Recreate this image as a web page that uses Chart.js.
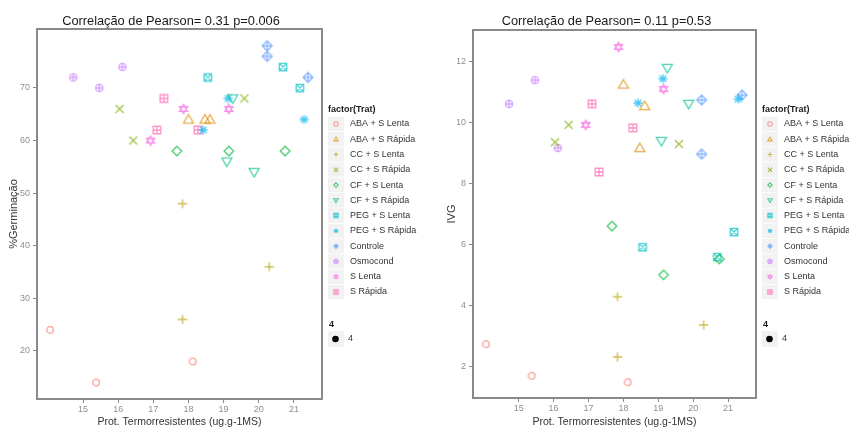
<!DOCTYPE html>
<html>
<head>
<meta charset="utf-8">
<script src="https://cdn.jsdelivr.net/npm/chart.js@4.4.1/dist/chart.umd.min.js"></script>
<style>
  html, body { margin: 0; padding: 0; background: #ffffff; }
  #wrap { position: relative; width: 849px; height: 428px; overflow: hidden; }
  .panel { position: absolute; top: 0; height: 428px; }
  #p1 { left: 0; width: 425px; }
  #p2 { left: 425px; width: 424px; }
</style>
</head>
<body>
<div id="wrap">
  <div class="panel" id="p1"><canvas id="c1"></canvas></div>
  <div class="panel" id="p2"><canvas id="c2"></canvas></div>
</div>
<script>
// Treatments, in legend order
const treatments = [
  'ABA + S Lenta', 'ABA + S Rápida', 'CC + S Lenta', 'CC + S Rápida',
  'CF + S Lenta', 'CF + S Rápida', 'PEG + S Lenta', 'PEG + S Rápida',
  'Controle', 'Osmocond', 'S Lenta', 'S Rápida'
];

// Prot. termorresistentes (ug.g-1MS), three replicates per treatment
const protTermo = [
  [14.06, 15.37, 18.12],
  [18.00, 18.47, 18.61],
  [17.83, 17.83, 20.30],
  [16.04, 16.43, 19.59],
  [17.67, 19.15, 20.75],
  [19.09, 19.26, 19.87],
  [18.55, 20.69, 21.17],
  [18.42, 19.13, 21.29],
  [20.24, 20.24, 21.40],
  [14.72, 15.46, 16.12],
  [16.92, 17.86, 19.15],
  [17.10, 17.30, 18.27]
];

// % germinação, same replicate order as protTermo
const germinacao = [
  [24, 14, 18],
  [64, 64, 64],
  [48, 26, 36],
  [66, 60, 68],
  [58, 58, 58],
  [56, 68, 54],
  [72, 74, 70],
  [62, 68, 64],
  [78, 76, 72],
  [72, 70, 74],
  [60, 66, 66],
  [62, 68, 62]
];

// IVG, same replicate order as protTermo
const ivg = [
  [2.72, 1.68, 1.47],
  [11.26, 9.17, 10.55],
  [4.28, 2.30, 3.35],
  [9.36, 9.93, 9.30],
  [6.60, 5.00, 5.52],
  [9.40, 11.80, 10.62],
  [5.91, 5.59, 6.41],
  [10.65, 11.45, 10.78],
  [10.75, 8.97, 10.91],
  [10.62, 11.40, 9.17],
  [9.93, 12.49, 11.11],
  [10.62, 8.38, 9.83]
];

const protTicks = [15, 16, 17, 18, 19, 20, 21];
const germTicks = [20, 30, 40, 50, 60, 70];
const ivgTicks = [2, 4, 6, 8, 10, 12];

const titleGerm = 'Correlação de Pearson= 0.31 p=0.006';
const titleIvg = 'Correlação de Pearson= 0.11 p=0.53';

// hue palette and marker shapes, one per treatment
const trtColors = [
  [248, 118, 109], [222, 140, 0], [183, 159, 0], [124, 174, 0],
  [0, 186, 56], [0, 192, 139], [0, 191, 196], [0, 180, 240],
  [97, 156, 255], [199, 124, 255], [245, 100, 227], [255, 100, 176]
];
const trtShapes = [
  'circle', 'triangle', 'plus', 'cross', 'diamond', 'triDown',
  'squareX', 'asterisk', 'diamondPlus', 'circlePlus', 'star6', 'squarePlus'
];
const markerSize = [3.3, 5, 4.6, 4, 4.8, 5, 3.7, 4.6, 5, 3.6, 4.6, 3.8];

const FONT = "'Liberation Sans', Arial, sans-serif";
const FRAME = '#8a8a8a';
const TICK_TEXT = '#8f8f8f';

function rgba(c, a) { return 'rgba(' + c[0] + ',' + c[1] + ',' + c[2] + ',' + a + ')'; }

function drawShape(ctx, shape, x, y, r, color, lw) {
  ctx.save();
  ctx.strokeStyle = color;
  ctx.lineWidth = lw;
  ctx.lineJoin = 'miter';
  const line = (x1, y1, x2, y2) => { ctx.moveTo(x1, y1); ctx.lineTo(x2, y2); };
  ctx.beginPath();
  switch (shape) {
    case 'circle':
      ctx.arc(x, y, r, 0, Math.PI * 2);
      break;
    case 'triangle':
      ctx.moveTo(x, y - r); ctx.lineTo(x + r, y + r * 0.72); ctx.lineTo(x - r, y + r * 0.72); ctx.closePath();
      break;
    case 'triDown':
      ctx.moveTo(x, y + r); ctx.lineTo(x + r, y - r * 0.72); ctx.lineTo(x - r, y - r * 0.72); ctx.closePath();
      break;
    case 'plus':
      line(x - r, y, x + r, y); line(x, y - r, x, y + r);
      break;
    case 'cross':
      line(x - r, y - r, x + r, y + r); line(x - r, y + r, x + r, y - r);
      break;
    case 'diamond':
      ctx.moveTo(x, y - r); ctx.lineTo(x + r, y); ctx.lineTo(x, y + r); ctx.lineTo(x - r, y); ctx.closePath();
      break;
    case 'squareX':
      ctx.rect(x - r, y - r, 2 * r, 2 * r);
      line(x - r, y - r, x + r, y + r); line(x - r, y + r, x + r, y - r);
      break;
    case 'asterisk': {
      const d = r * 0.72;
      line(x - r, y, x + r, y); line(x, y - r, x, y + r);
      line(x - d, y - d, x + d, y + d); line(x - d, y + d, x + d, y - d);
      break;
    }
    case 'diamondPlus':
      ctx.moveTo(x, y - r); ctx.lineTo(x + r, y); ctx.lineTo(x, y + r); ctx.lineTo(x - r, y); ctx.closePath();
      line(x - r, y, x + r, y); line(x, y - r, x, y + r);
      break;
    case 'circlePlus':
      ctx.arc(x, y, r, 0, Math.PI * 2);
      line(x - r, y, x + r, y); line(x, y - r, x, y + r);
      break;
    case 'star6':
      ctx.moveTo(x, y - r); ctx.lineTo(x + r * 0.87, y + r * 0.5); ctx.lineTo(x - r * 0.87, y + r * 0.5); ctx.closePath();
      ctx.moveTo(x, y + r); ctx.lineTo(x + r * 0.87, y - r * 0.5); ctx.lineTo(x - r * 0.87, y - r * 0.5); ctx.closePath();
      break;
    case 'squarePlus':
      ctx.rect(x - r, y - r, 2 * r, 2 * r);
      line(x - r, y, x + r, y); line(x, y - r, x, y + r);
      break;
  }
  ctx.stroke();
  ctx.restore();
}

// small images used as Chart.js point styles
function makeMarker(i) {
  const size = 16;
  const cv = document.createElement('canvas');
  cv.width = size; cv.height = size;
  drawShape(cv.getContext('2d'), trtShapes[i], size / 2, size / 2, markerSize[i], rgba(trtColors[i], 0.7), 1.35);
  return cv;
}
const markers = treatments.map((t, i) => makeMarker(i));

// full box around the plotting region
const framePlugin = {
  id: 'frame',
  beforeDatasetsDraw(chart) {
    const a = chart.chartArea, ctx = chart.ctx;
    ctx.save();
    ctx.strokeStyle = FRAME;
    ctx.lineWidth = 2;
    ctx.strokeRect(a.left, a.top, a.right - a.left, a.bottom - a.top);
    ctx.restore();
  }
};

// legend column: factor(Trat) keys and the size key "4"
const legendPlugin = {
  id: 'trtLegend',
  afterDraw(chart) {
    const ctx = chart.ctx;
    const x0 = chart.chartArea.right + 6;
    const rowH = 15.27;
    const y0 = 124;
    ctx.save();
    ctx.textBaseline = 'middle';
    ctx.textAlign = 'left';
    ctx.fillStyle = '#1a1a1a';
    ctx.font = 'bold 9px ' + FONT;
    ctx.fillText('factor(Trat)', x0, 110);
    treatments.forEach((t, i) => {
      const cy = y0 + i * rowH;
      ctx.fillStyle = '#f2f2f2';
      ctx.fillRect(x0, cy - rowH / 2 + 0.4, 16, rowH - 0.8);
      drawShape(ctx, trtShapes[i], x0 + 8, cy, 2.2, rgba(trtColors[i], 0.7), 1.1);
      ctx.fillStyle = '#333333';
      ctx.font = '9px ' + FONT;
      ctx.fillText(t, x0 + 22, cy);
    });
    ctx.fillStyle = '#1a1a1a';
    ctx.font = 'bold 9px ' + FONT;
    ctx.fillText('4', x0 + 1, 325);
    ctx.fillStyle = '#f2f2f2';
    ctx.fillRect(x0, 331, 16, 16);
    ctx.fillStyle = '#000000';
    ctx.beginPath();
    ctx.arc(x0 + 7.5, 339, 3.3, 0, Math.PI * 2);
    ctx.fill();
    ctx.fillStyle = '#333333';
    ctx.font = '9px ' + FONT;
    ctx.fillText('4', x0 + 20, 339);
    ctx.restore();
  }
};

function buildDatasets(yData) {
  return treatments.map((t, i) => ({
    label: t,
    data: protTermo[i].map((x, k) => ({ x: x, y: yData[i][k] })),
    pointStyle: markers[i],
    pointRadius: 5,
    showLine: false
  }));
}

function makePanel(canvasId, cfg) {
  return new Chart(document.getElementById(canvasId), {
    type: 'scatter',
    data: { datasets: buildDatasets(cfg.yData) },
    plugins: [framePlugin, legendPlugin],
    options: {
      responsive: true,
      maintainAspectRatio: false,
      animation: false,
      events: [],
      layout: { padding: { left: cfg.padLeft, right: cfg.padRight, top: 0, bottom: 0 } },
      plugins: {
        legend: { display: false },
        tooltip: { enabled: false },
        title: {
          display: true,
          text: cfg.title,
          color: '#1a1a1a',
          font: { family: FONT, size: 12.8, weight: 'normal', lineHeight: 1.0 },
          padding: { top: 15.2, bottom: cfg.titleGap }
        }
      },
      scales: {
        x: {
          type: 'linear',
          min: 13.69,
          max: 21.8,
          afterBuildTicks: s => { s.ticks = protTicks.map(v => ({ value: v })); },
          afterFit: s => { s.height = cfg.xAxisH; },
          border: { display: false },
          grid: { drawOnChartArea: false, drawTicks: true, tickLength: 4, tickColor: FRAME, tickWidth: 1 },
          ticks: { color: TICK_TEXT, font: { family: FONT, size: 9 }, padding: 1, maxRotation: 0, autoSkip: false },
          title: {
            display: true,
            text: 'Prot. Termorresistentes (ug.g-1MS)',
            color: '#333333',
            font: { family: FONT, size: 10.5, lineHeight: 1.2 },
            padding: { top: 0, bottom: -0.3 }
          }
        },
        y: {
          type: 'linear',
          min: cfg.yMin,
          max: cfg.yMax,
          afterBuildTicks: s => { s.ticks = cfg.yTicks.map(v => ({ value: v })); },
          afterFit: s => { s.width = cfg.yAxisW; },
          border: { display: false },
          grid: { drawOnChartArea: false, drawTicks: true, tickLength: 4, tickColor: FRAME, tickWidth: 1 },
          ticks: { color: TICK_TEXT, font: { family: FONT, size: 9 }, padding: 3, autoSkip: false },
          title: {
            display: true,
            text: cfg.yTitle,
            color: '#333333',
            font: { family: FONT, size: 11, lineHeight: 1.2 },
            padding: { top: cfg.yTitlePad, bottom: 0 }
          }
        }
      }
    }
  });
}

makePanel('c1', {
  yData: germinacao, yTicks: germTicks, yMin: 10.87, yMax: 81.2,
  yTitle: '%Germinação', title: titleGerm,
  padLeft: 20, padRight: 103, yAxisW: 17, xAxisH: 29, titleGap: 1, yTitlePad: -12.6
});

makePanel('c2', {
  yData: ivg, yTicks: ivgTicks, yMin: 0.95, yMax: 13.05,
  yTitle: 'IVG', title: titleIvg,
  padLeft: 32, padRight: 93, yAxisW: 16, xAxisH: 30, titleGap: 2, yTitlePad: -11.6
});
</script>
</body>
</html>
